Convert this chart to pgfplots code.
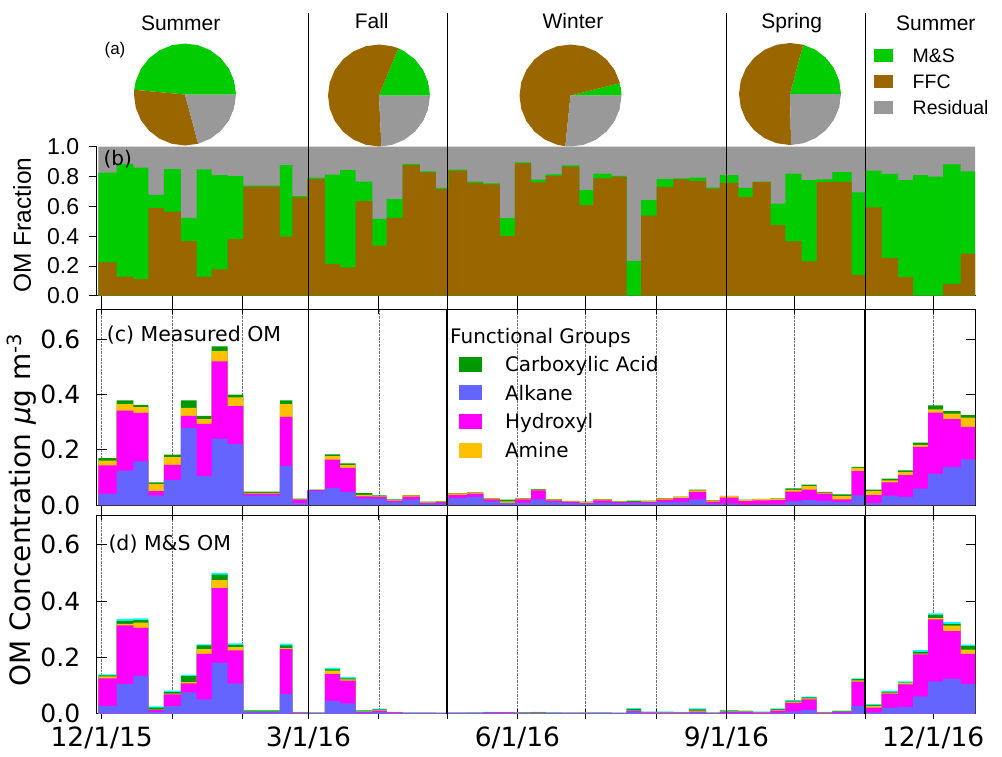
\documentclass[border=0pt]{standalone}
\usepackage{pgfplots}
\pgfplotsset{compat=1.18}
\usepackage{pgfplotstable}
\usepgfplotslibrary{polar}
\usepackage{fontspec}
\setmainfont{DejaVu Sans}
\newfontfamily\arial{Liberation Sans}
\newcommand\fs[1]{\fontsize{#1}{#1}\selectfont}
\definecolor{msgreen}{HTML}{00CC00}
\definecolor{ffcbrown}{HTML}{996600}
\definecolor{resgray}{HTML}{999999}
\definecolor{alk}{HTML}{6464FF}
\definecolor{hyd}{HTML}{FF00FF}
\definecolor{ami}{HTML}{FFC000}
\definecolor{cac}{HTML}{009900}
\definecolor{cya}{HTML}{00FFFF}

\pgfplotstableread{
x tot ffc ms cal chy cam cca dal dhy dam dca dcy
-1.48 1 0.224 0.826 0.041 0.143 0.160 0.169 0.027 0.125 0.132 0.136 0.139
6.59 1 0.128 0.884 0.124 0.341 0.364 0.378 0.105 0.313 0.319 0.329 0.336
13.92 1 0.112 0.859 0.158 0.333 0.354 0.362 0.135 0.304 0.323 0.332 0.338
20.52 1 0.588 0.676 0.035 0.050 0.076 0.082 0.006 0.012 0.014 0.021 0.025
27.42 1 0.564 0.850 0.091 0.145 0.173 0.182 0.026 0.068 0.071 0.076 0.081
34.90 1 0.367 0.523 0.278 0.322 0.351 0.378 0.075 0.107 0.112 0.133 0.137
41.80 1 0.128 0.848 0.105 0.293 0.310 0.322 0.050 0.212 0.229 0.242 0.246
48.40 1 0.177 0.810 0.240 0.519 0.556 0.573 0.181 0.446 0.474 0.494 0.500
55.44 1 0.380 0.803 0.220 0.357 0.389 0.399 0.107 0.224 0.236 0.244 0.249
62.34 1 0.732 0.738 0.035 0.041 0.044 0.048 0.004 0.006 0.007 0.010 0.012
78.48 1 0.396 0.877 0.141 0.318 0.364 0.378 0.070 0.229 0.232 0.242 0.248
83.90 1 0.660 0.669 0.007 0.019 0.020 0.023 0.002 0.003 0.004 0.005 0.006
90.50 1 0.783 0.792 0.050 0.054 0.055 0.056 0.001 0.002 0.003 0.003 0.004
98.28 1 0.213 0.812 0.062 0.164 0.177 0.183 0.044 0.140 0.152 0.157 0.162
104.90 1 0.190 0.843 0.047 0.134 0.144 0.150 0.036 0.117 0.121 0.125 0.129
111.80 1 0.635 0.765 0.024 0.031 0.037 0.043 0.003 0.006 0.008 0.010 0.012
119.10 1 0.336 0.515 0.023 0.029 0.031 0.035 0.006 0.010 0.012 0.015 0.017
125.40 1 0.523 0.649 0.011 0.016 0.018 0.020 0.002 0.004 0.004 0.005 0.006
132.50 1 0.877 0.884 0.020 0.030 0.035 0.036 0.001 0.002 0.002 0.003 0.003
140.10 1 0.828 0.834 0.006 0.009 0.011 0.012 0.001 0.002 0.002 0.003 0.003
147.10 1 0.716 0.723 0.006 0.010 0.013 0.014 0.001 0.002 0.002 0.002 0.003
152.60 1 0.839 0.846 0.026 0.037 0.042 0.043 0.001 0.002 0.002 0.003 0.003
160.90 1 0.758 0.765 0.029 0.041 0.045 0.046 0.001 0.002 0.002 0.003 0.004
168.00 1 0.747 0.754 0.013 0.020 0.024 0.025 0.003 0.004 0.004 0.005 0.006
175.30 1 0.400 0.521 0.007 0.008 0.013 0.019 0.002 0.004 0.004 0.005 0.006
181.90 1 0.888 0.895 0.009 0.020 0.024 0.025 0.001 0.002 0.003 0.004 0.005
189.00 1 0.760 0.779 0.020 0.053 0.056 0.057 0.001 0.002 0.003 0.005 0.006
195.40 1 0.805 0.814 0.012 0.017 0.020 0.021 0.001 0.002 0.002 0.003 0.004
202.50 1 0.866 0.875 0.008 0.012 0.014 0.015 0.001 0.002 0.002 0.003 0.003
210.20 1 0.608 0.709 0.006 0.008 0.011 0.012 0.001 0.002 0.003 0.003 0.004
216.40 1 0.787 0.819 0.009 0.017 0.020 0.021 0.001 0.002 0.002 0.003 0.004
224.50 1 0.799 0.805 0.007 0.010 0.013 0.014 0.001 0.002 0.002 0.002 0.003
231.10 1 0.000 0.233 0.007 0.010 0.011 0.016 0.008 0.010 0.011 0.016 0.019
237.40 1 0.537 0.642 0.007 0.011 0.014 0.016 0.002 0.004 0.005 0.006 0.007
244.30 1 0.728 0.784 0.011 0.019 0.024 0.025 0.002 0.003 0.004 0.006 0.007
251.60 1 0.780 0.787 0.012 0.025 0.029 0.030 0.002 0.003 0.004 0.005 0.006
258.60 1 0.771 0.793 0.020 0.047 0.053 0.056 0.004 0.007 0.010 0.015 0.018
266.00 1 0.719 0.726 0.005 0.012 0.017 0.018 0.001 0.002 0.003 0.003 0.004
272.10 1 0.757 0.809 0.006 0.027 0.032 0.033 0.002 0.006 0.008 0.010 0.012
280.20 1 0.661 0.724 0.001 0.014 0.018 0.019 0.002 0.006 0.008 0.009 0.010
286.50 1 0.762 0.766 0.002 0.017 0.021 0.022 0.001 0.004 0.005 0.006 0.007
294.40 1 0.474 0.618 0.002 0.018 0.023 0.024 0.003 0.010 0.013 0.016 0.018
300.90 1 0.364 0.820 0.013 0.048 0.055 0.060 0.008 0.038 0.042 0.045 0.048
308.10 1 0.231 0.775 0.018 0.056 0.068 0.074 0.013 0.050 0.054 0.057 0.060
314.70 1 0.762 0.780 0.014 0.041 0.045 0.047 0.001 0.003 0.004 0.005 0.006
321.60 1 0.764 0.829 0.011 0.020 0.032 0.038 0.002 0.006 0.007 0.009 0.010
330.10 1 0.139 0.694 0.035 0.122 0.134 0.138 0.027 0.113 0.118 0.122 0.125
336.00 1 0.593 0.840 0.008 0.036 0.050 0.056 0.004 0.021 0.027 0.030 0.033
343.30 1 0.254 0.818 0.034 0.082 0.089 0.095 0.021 0.071 0.074 0.077 0.081
350.60 1 0.124 0.775 0.029 0.108 0.119 0.125 0.024 0.104 0.108 0.110 0.114
357.20 1 0.000 0.809 0.059 0.210 0.217 0.225 0.061 0.210 0.213 0.219 0.225
363.80 1 0.000 0.800 0.113 0.334 0.345 0.360 0.114 0.335 0.340 0.351 0.356
370.40 1 0.079 0.881 0.137 0.310 0.330 0.339 0.124 0.293 0.312 0.319 0.325
378.10 1 0.283 0.834 0.165 0.282 0.316 0.325 0.105 0.212 0.227 0.240 0.245
384.40 1 0.283 0.834 0.165 0.282 0.316 0.325 0.105 0.212 0.227 0.240 0.245
}\data

\pgfplotsset{
  months/.style={scale only axis, width=879pt, xmin=-2.2, xmax=384.7,
    xtick={0,31,62,91,122,152,183,213,244,275,305,336,366},
    axis line style={line width=0.8pt}, every tick/.style={black, line width=0.8pt}},
  pie/.style={scale only axis, width=102pt, height=102pt, hide axis, ymin=0, ymax=1, xmin=0, xmax=360, anchor=center},
  area/.style={const plot mark left, draw=none, forget plot},
}

\begin{document}
\begin{tikzpicture}
\path[use as bounding box] (0pt,0pt) rectangle (1002pt,-756pt);

% ---------- pies ----------
\begin{polaraxis}[pie, at={(185pt,-94.5pt)}]
\addplot[fill=msgreen, draw=none] coordinates {(0,0)(0,1)(15,1)(30,1)(45,1)(60,1)(75,1)(90,1)(105,1)(120,1)(135,1)(150,1)(165,1)(174.7,1)(0,0)};
\addplot[fill=ffcbrown, draw=none] coordinates {(0,0)(174.7,1)(180,1)(195,1)(210,1)(225,1)(240,1)(255,1)(270,1)(285,1)(0,0)};
\addplot[fill=resgray, draw=none] coordinates {(0,0)(285,1)(300,1)(315,1)(330,1)(345,1)(360,1)(0,0)};
\end{polaraxis}
\begin{polaraxis}[pie, at={(379pt,-95.5pt)}]
\addplot[fill=msgreen, draw=none] coordinates {(0,0)(0,1)(15,1)(30,1)(45,1)(60,1)(67.8,1)(0,0)};
\addplot[fill=ffcbrown, draw=none] coordinates {(0,0)(67.8,1)(75,1)(90,1)(105,1)(120,1)(135,1)(150,1)(165,1)(180,1)(195,1)(210,1)(225,1)(240,1)(255,1)(270,1)(272.7,1)(0,0)};
\addplot[fill=resgray, draw=none] coordinates {(0,0)(272.7,1)(285,1)(300,1)(315,1)(330,1)(345,1)(360,1)(0,0)};
\end{polaraxis}
\begin{polaraxis}[pie, at={(570.5pt,-95.5pt)}]
\addplot[fill=msgreen, draw=none] coordinates {(0,0)(0,1)(7,1)(14,1)(0,0)};
\addplot[fill=ffcbrown, draw=none] coordinates {(0,0)(14,1)(30,1)(45,1)(60,1)(75,1)(90,1)(105,1)(120,1)(135,1)(150,1)(165,1)(180,1)(195,1)(210,1)(225,1)(240,1)(255,1)(264.2,1)(0,0)};
\addplot[fill=resgray, draw=none] coordinates {(0,0)(264.2,1)(270,1)(285,1)(300,1)(315,1)(330,1)(345,1)(360,1)(0,0)};
\end{polaraxis}
\begin{polaraxis}[pie, at={(790pt,-94pt)}]
\addplot[fill=msgreen, draw=none] coordinates {(0,0)(0,1)(15,1)(30,1)(45,1)(60,1)(75,1)(0,0)};
\addplot[fill=ffcbrown, draw=none] coordinates {(0,0)(75,1)(90,1)(105,1)(120,1)(135,1)(150,1)(165,1)(180,1)(195,1)(210,1)(225,1)(240,1)(255,1)(270,1)(271.2,1)(0,0)};
\addplot[fill=resgray, draw=none] coordinates {(0,0)(271.2,1)(285,1)(300,1)(315,1)(330,1)(345,1)(360,1)(0,0)};
\end{polaraxis}

\node[anchor=base, font=\arial\fs{21pt}, inner sep=0pt] at (180.7pt,-30pt) {Summer};
\node[anchor=base, font=\arial\fs{21pt}, inner sep=0pt] at (371.7pt,-28.3pt) {Fall};
\node[anchor=base, font=\arial\fs{21pt}, inner sep=0pt] at (573pt,-28.3pt) {Winter};
\node[anchor=base, font=\arial\fs{21pt}, inner sep=0pt] at (791.7pt,-28.3pt) {Spring};
\node[anchor=base, font=\arial\fs{21pt}, inner sep=0pt] at (935.8pt,-30pt) {Summer};
\node[font=\arial\fs{17pt}, inner sep=0pt] at (115pt,-50pt) {(a)};

% ---------- panel b ----------
\begin{axis}[months, at={(96.7pt,-295.7pt)}, anchor=south west, height=149pt,
  ymin=0, ymax=1, axis x line*=bottom, axis y line*=left, clip=false,
  xticklabels={}, ytick={0,0.2,0.4,0.6,0.8,1}, yticklabels={0.0,0.2,0.4,0.6,0.8,1.0},
  tick align=outside, major tick length=8pt,
  yticklabel style={font=\arial\fs{23pt}, xshift=-6pt},
  legend cell align=left,
  legend image code/.code={\fill[#1, draw=none] (0pt,-6.7pt) rectangle (19pt,6.7pt); \path[draw=none, fill=none] (0pt,0pt) -- (38.7pt,0pt);},
  legend style={at={(axis description cs:0.8843,1.6604)}, anchor=north west, draw=none, fill=none,
    inner sep=0pt, outer sep=0pt, row sep=12pt, font=\arial\fs{19.5pt},
    nodes={inner sep=0pt, text height=14pt, text depth=0pt}},
]
\addplot[area, fill=resgray] table[x=x, y=tot]{\data} \closedcycle;
\addplot[area, fill=msgreen] table[x=x, y=ms]{\data} \closedcycle;
\addplot[area, fill=ffcbrown] table[x=x, y=ffc]{\data} \closedcycle;
\addplot[ycomb, black, line width=1pt, forget plot, mark=none] coordinates {(91,1.9)(152,1.9)(275,1.9)(336,1.9)};
\addlegendimage{fill=msgreen}\addlegendentry{M\&S}
\addlegendimage{fill=ffcbrown}\addlegendentry{FFC}
\addlegendimage{fill=resgray}\addlegendentry{Residual}
\end{axis}
\node[anchor=base west, font=\fs{20pt}, inner sep=0pt] at (103.3pt,-165pt) {(b)};
\node[rotate=90, font=\arial\fs{24.5pt}, inner sep=0pt] at (22pt,-225pt) {OM Fraction};

% ---------- panel c ----------
\begin{axis}[months, at={(96.7pt,-505pt)}, anchor=south west, height=196pt,
  ymin=0, ymax=0.708, xticklabels={},
  ytick={0,0.2,0.4,0.6}, yticklabels={0.0,0.2,0.4,0.6},
  ytick align=inside, xtick align=center, major tick length=10pt,
  yticklabel style={font=\fs{25pt}, xshift=-13pt},
  xmajorgrids, grid style={densely dotted, black!55, line width=0.6pt},
  legend cell align=left,
  legend image code/.code={\fill[#1, draw=none] (0pt,-7.5pt) rectangle (23pt,7.5pt); \path[draw=none, fill=none] (0pt,0pt) -- (46pt,0pt);},
  legend style={at={(axis description cs:0.4122,0.7566)}, anchor=north west, draw=none, fill=none,
    inner sep=0pt, outer sep=0pt, row sep=13.6pt, font=\fs{20pt},
    nodes={inner sep=0pt, text height=14.6pt, text depth=0pt}},
]
\addplot[area, fill=cac] table[x=x, y=cca]{\data} \closedcycle;
\addplot[area, fill=ami] table[x=x, y=cam]{\data} \closedcycle;
\addplot[area, fill=hyd] table[x=x, y=chy]{\data} \closedcycle;
\addplot[area, fill=alk] table[x=x, y=cal]{\data} \closedcycle;
\addplot[ycomb, black, line width=1.2pt, forget plot, mark=none] coordinates {(91,0.708)(152,0.708)(275,0.708)(336,0.708)};
\addlegendimage{fill=cac}\addlegendentry{Carboxylic Acid}
\addlegendimage{fill=alk}\addlegendentry{Alkane}
\addlegendimage{fill=hyd}\addlegendentry{Hydroxyl}
\addlegendimage{fill=ami}\addlegendentry{Amine}
\end{axis}
\node[anchor=base west, font=\fs{20pt}, inner sep=0pt] at (450pt,-343.3pt) {Functional Groups};
\node[anchor=base west, font=\fs{20.5pt}, inner sep=0pt] at (106.7pt,-341.7pt) {(c) Measured OM};

% ---------- panel d ----------
\begin{axis}[months, at={(96.7pt,-713.5pt)}, anchor=south west, height=198.5pt,
  ymin=0, ymax=0.7056,
  xticklabels={12/1/15,,,3/1/16,,,6/1/16,,,9/1/16,,,12/1/16},
  xticklabel style={font=\fs{26.5pt}, yshift=-5pt},
  ytick={0,0.2,0.4,0.6}, yticklabels={0.0,0.2,0.4,0.6},
  ytick align=inside, xtick align=center, major tick length=10pt,
  yticklabel style={font=\fs{25pt}, xshift=-13pt},
  xmajorgrids, grid style={densely dotted, black!55, line width=0.6pt},
]
\addplot[area, fill=cya] table[x=x, y=dcy]{\data} \closedcycle;
\addplot[area, fill=cac] table[x=x, y=dca]{\data} \closedcycle;
\addplot[area, fill=ami] table[x=x, y=dam]{\data} \closedcycle;
\addplot[area, fill=hyd] table[x=x, y=dhy]{\data} \closedcycle;
\addplot[area, fill=alk] table[x=x, y=dal]{\data} \closedcycle;
\addplot[ycomb, black, line width=1.2pt, forget plot, mark=none] coordinates {(91,0.7056)(152,0.7056)(275,0.7056)(336,0.7056)};
\end{axis}
\node[anchor=base west, font=\fs{20.5pt}, inner sep=0pt] at (108.3pt,-550.7pt) {(d) M\&S OM};
\node[rotate=90, font=\fs{28pt}, inner sep=0pt] at (22pt,-510pt) {OM Concentration {\itshape μ}g m\textsuperscript{-3}};
\end{tikzpicture}
\end{document}
